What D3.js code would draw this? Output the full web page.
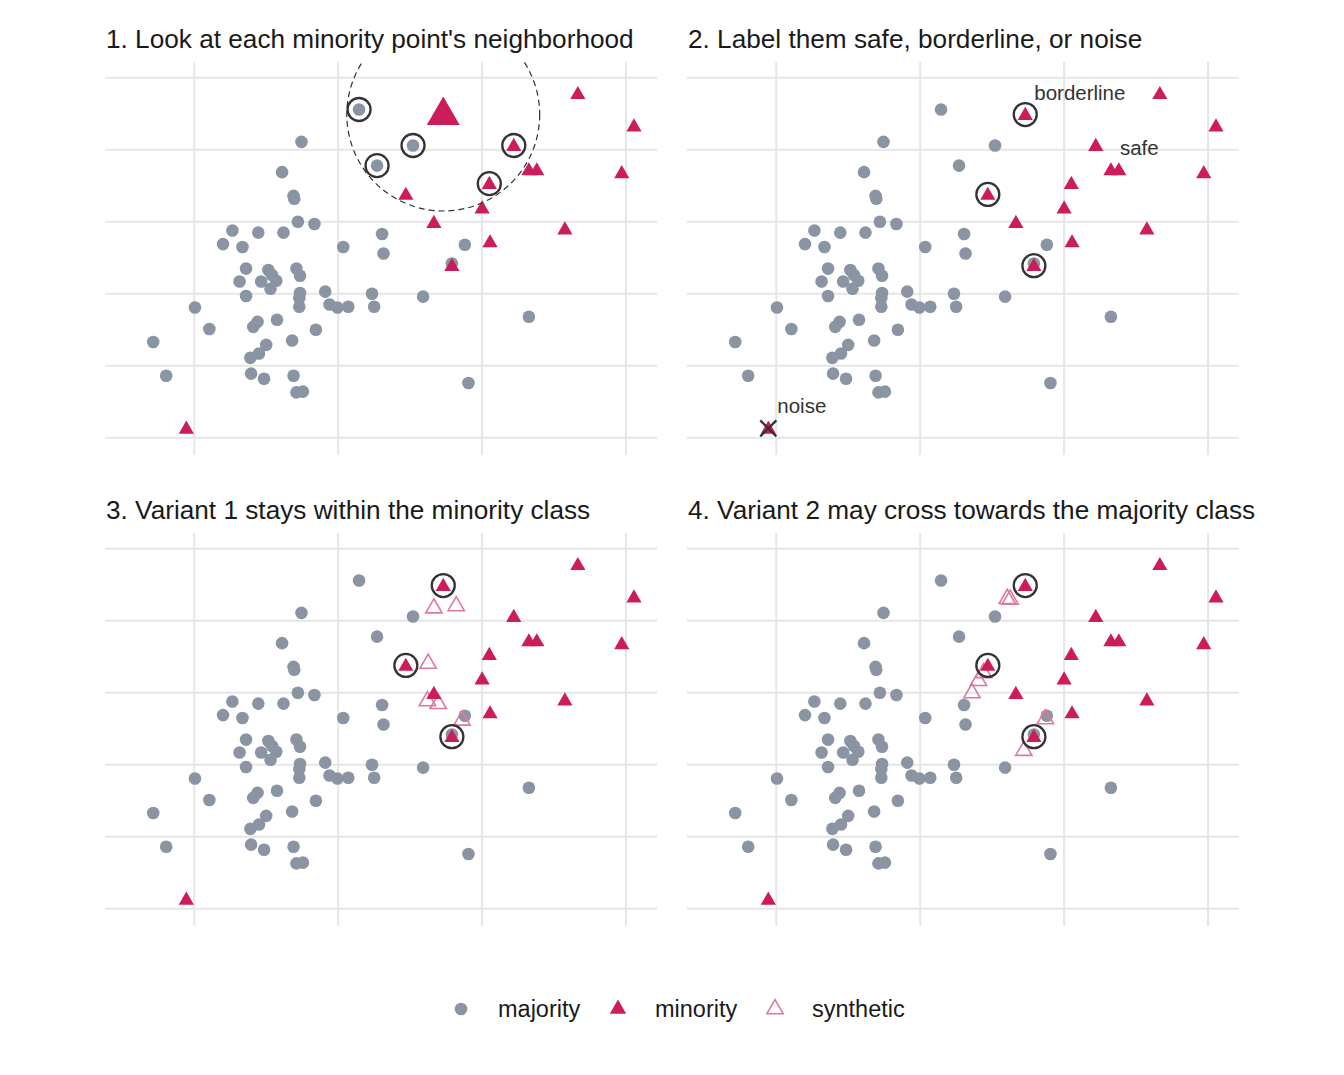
<!DOCTYPE html>
<html><head><meta charset="utf-8">
<script src="https://cdn.jsdelivr.net/npm/d3@7"></script>
<style>body{margin:0;background:#fff}svg{font-family:"Liberation Sans",Arial,sans-serif}</style>
</head><body><div id="chart"></div>
<script>
// data units: x gridlines at 0,2,4,6 ; y gridlines at 0..5
const majority = [
  [2.29,4.56],[3.04,4.06],[2.54,3.78],[1.49,4.11],[1.22,3.69],[1.38,3.36],[1.39,3.32],[1.44,3.00],
  [1.67,2.97],[0.53,2.88],[0.40,2.69],[0.67,2.65],[0.89,2.85],[1.24,2.85],[2.07,2.65],[2.61,2.83],
  [2.63,2.56],[3.76,2.68],[3.58,2.42],[0.72,2.35],[1.03,2.33],[1.08,2.26],[1.14,2.18],[0.93,2.17],
  [0.63,2.17],[1.06,2.07],[0.72,1.97],[1.42,2.35],[1.47,2.25],[1.47,2.01],[1.46,1.94],[1.46,1.82],
  [1.82,2.03],[1.88,1.85],[1.99,1.81],[2.14,1.82],[2.47,2.00],[2.50,1.82],[3.18,1.96],[0.01,1.81],
  [0.21,1.51],[0.88,1.61],[0.82,1.54],[1.15,1.64],[1.69,1.50],[1.36,1.35],[1.00,1.29],[0.90,1.17],
  [0.78,1.11],[-0.57,1.33],[-0.39,0.86],[0.79,0.89],[0.97,0.82],[1.38,0.86],[1.42,0.63],[1.51,0.64],
  [3.81,0.76],[4.65,1.68]
];
const minority = [
  [3.46,4.49],[5.33,4.78],[6.11,4.33],[4.44,4.06],[4.65,3.72],[4.76,3.72],[5.94,3.68],[4.10,3.53],
  [2.94,3.38],[4.00,3.19],[3.33,2.99],[5.15,2.90],[4.11,2.72],[3.58,2.39],[-0.11,0.13]
];
const synthetic1 = [[3.33,4.19],[3.64,4.22],[3.25,3.42],[3.24,2.90],[3.39,2.86],[3.72,2.63]];
const synthetic2 = [[3.21,4.32],[3.25,4.31],[2.88,3.29],[2.81,3.18],[2.72,3.01],[3.74,2.65],[3.44,2.21]];
const titles = [
  "1. Look at each minority point's neighborhood",
  "2. Label them safe, borderline, or noise",
  "3. Variant 1 stays within the minority class",
  "4. Variant 2 may cross towards the majority class"
];
const focus = 0;              // index of the minority point being examined
const circledMajority1 = [0, 1, 2];
const circledMinority1 = [3, 7];
const borderline = [0, 8, 13];
const safeIdx = 4, noiseIdx = 14;
const xTicks = [0, 2, 4, 6], yTicks = [0, 1, 2, 3, 4, 5];

const W = 1344, H = 1075;
const pw = 552, ph = 393;
const origins = [[105, 62], [687, 62], [105, 533], [687, 533]];
const cMaj = "#8a94a2", cMin = "#cc1c5b", cSyn = "#e0789d", cRing = "#333333";

const x = d3.scaleLinear().domain([-1.24, 6.43]).range([0, pw]);
const y = d3.scaleLinear().domain([-0.24, 5.22]).range([ph, 0]);
const tri = d3.symbol().type(d3.symbolTriangle);

const svg = d3.select("#chart").append("svg").attr("width", W).attr("height", H);
svg.append("defs").append("clipPath").attr("id", "clip")
  .append("rect").attr("width", pw).attr("height", ph);

origins.forEach(([ox, oy], p) => {
  const g = svg.append("g").attr("transform", `translate(${ox},${oy})`);
  g.append("text").attr("x", 1).attr("y", -14).attr("font-size", 26.2).attr("fill", "#1a1a1a").text(titles[p]);
  g.selectAll(".vx").data(xTicks).join("line").attr("x1", x).attr("x2", x).attr("y1", 0).attr("y2", ph)
    .attr("stroke", "#e6e6e6").attr("stroke-width", 2);
  g.selectAll(".hy").data(yTicks).join("line").attr("y1", y).attr("y2", y).attr("x1", 0).attr("x2", pw)
    .attr("stroke", "#e6e6e6").attr("stroke-width", 2);

  g.selectAll(".maj").data(majority).join("circle").attr("cx", d => x(d[0])).attr("cy", d => y(d[1]))
    .attr("r", 6.3).attr("fill", cMaj);

  const syn = p === 2 ? synthetic1 : p === 3 ? synthetic2 : [];
  g.selectAll(".syn").data(syn).join("path").attr("d", tri.size(115)())
    .attr("transform", d => `translate(${x(d[0])},${y(d[1]) + 1})`)
    .attr("fill", "none").attr("stroke", cSyn).attr("stroke-width", 1.6);

  g.selectAll(".min").data(minority).join("path")
    .attr("d", (d, i) => tri.size(p === 0 && i === focus ? 470 : 100)())
    .attr("transform", d => `translate(${x(d[0])},${y(d[1]) + 1})`).attr("fill", cMin);

  const ring = (pts) => g.selectAll(null).data(pts).join("circle")
    .attr("cx", d => x(d[0])).attr("cy", d => y(d[1])).attr("r", 11.5)
    .attr("fill", "none").attr("stroke", cRing).attr("stroke-width", 2.3);

  if (p === 0) {
    ring(circledMajority1.map(i => majority[i]));
    ring(circledMinority1.map(i => minority[i]));
    g.append("circle").attr("clip-path", "url(#clip)")
      .attr("cx", x(minority[focus][0])).attr("cy", y(minority[focus][1]))
      .attr("r", x(1.34) - x(0)).attr("fill", "none").attr("stroke", cRing)
      .attr("stroke-width", 1.2).attr("stroke-dasharray", "6,4");
  } else {
    ring(borderline.map(i => minority[i]));
  }
  if (p === 1) {
    const n = minority[noiseIdx];
    g.append("path").attr("d", d3.symbol().type(d3.symbolX).size(170)())
      .attr("transform", `translate(${x(n[0])},${y(n[1])})`).attr("stroke", cRing).attr("stroke-width", 2.3);
    const lab = [[minority[focus], "borderline"], [minority[safeIdx], "safe"], [n, "noise"]];
    g.selectAll(".lab").data(lab).join("text").attr("x", d => x(d[0][0]) + 9).attr("y", d => y(d[0][1]) - 15)
      .attr("font-size", 20.5).attr("fill", "#333").text(d => d[1]);
  }
});

// legend
const leg = svg.append("g").attr("transform", "translate(0,1009)").attr("font-size", 23.5).attr("fill", "#1a1a1a");
const items = [["majority", 461], ["minority", 618], ["synthetic", 775]];
items.forEach(([name, lx], i) => {
  if (i === 0) leg.append("circle").attr("cx", lx).attr("cy", 0).attr("r", 6.3).attr("fill", cMaj);
  else leg.append("path").attr("d", tri.size(115)()).attr("transform", `translate(${lx},0)`)
    .attr("fill", i === 1 ? cMin : "none").attr("stroke", i === 2 ? cSyn : "none").attr("stroke-width", 1.6);
  leg.append("text").attr("x", lx + 37).attr("y", 8).text(name);
});
</script></body></html>
